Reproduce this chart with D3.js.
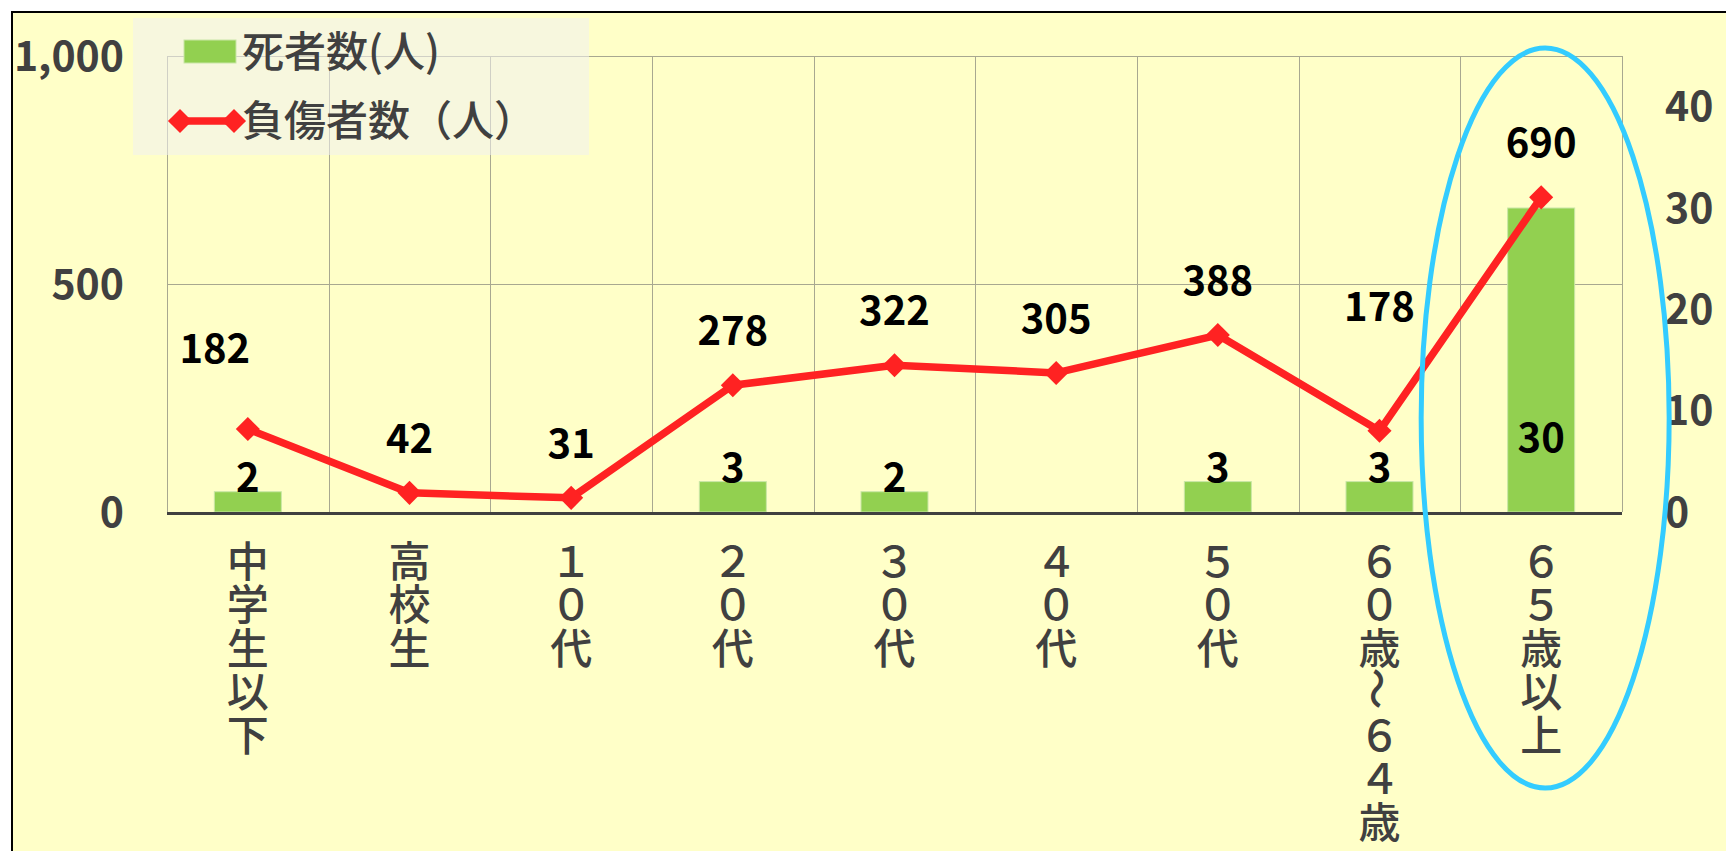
<!DOCTYPE html>
<html>
<head>
<meta charset="utf-8">
<script src="https://cdn.jsdelivr.net/npm/d3@7"></script>
<style>
  html, body { margin: 0; padding: 0; background: #fff; }
  svg { display: block; font-family: "Noto Sans CJK JP", "Noto Sans", sans-serif; }
</style>
</head>
<body>
<svg id="chart" width="1726" height="851"></svg>
<script>
// data
const categories = ["中学生以下", "高校生", "１０代", "２０代", "３０代", "４０代", "５０代", "６０歳～６４歳", "６５歳以上"];
const deaths = [2, 0, 0, 3, 2, 0, 3, 3, 30];
const injuries = [182, 42, 31, 278, 322, 305, 388, 178, 690];
const leftTicks = [0, 500, 1000];
const rightTicks = [0, 10, 20, 30, 40];
const seriesNames = ["死者数(人)", "負傷者数（人）"];

// some labels were dragged by hand in the original
const labelNudge = {0: [-33, -66], 7: [0, -110]};

const svg = d3.select("#chart");
const plot = {left: 167, right: 1622, top: 56, bottom: 512};

const x = d3.scaleBand().domain(categories).range([plot.left, plot.right]);
const bw = x.bandwidth();
const cx = c => x(c) + bw / 2;
const yL = d3.scaleLinear().domain([0, 1000]).range([plot.bottom, plot.top]);
const yR = d3.scaleLinear().domain([0, 45]).range([plot.bottom, plot.top]);

const green = "#92D050", red = "#FF2222", axisGrey = "#404040", gridCol = "#A8A890";

// frame / background
svg.append("rect")
  .attr("x", 12).attr("y", 12).attr("width", 1800).attr("height", 900)
  .attr("fill", "#FFFFC8").attr("stroke", "#000").attr("stroke-width", 2);

// gridlines
const grid = svg.append("g").attr("stroke", gridCol).attr("stroke-width", 1);
grid.selectAll("line.h")
  .data(leftTicks.filter(d => d > 0))
  .enter().append("line")
  .attr("x1", plot.left).attr("x2", plot.right)
  .attr("y1", d => Math.round(yL(d)) + 0.5).attr("y2", d => Math.round(yL(d)) + 0.5);
grid.selectAll("line.v")
  .data(d3.range(categories.length + 1))
  .enter().append("line")
  .attr("x1", i => Math.round(plot.left + i * x.step()) + 0.5)
  .attr("x2", i => Math.round(plot.left + i * x.step()) + 0.5)
  .attr("y1", plot.top).attr("y2", plot.bottom);

// legend box (semi transparent, gridlines show through)
svg.append("rect")
  .attr("x", 133).attr("y", 18).attr("width", 456).attr("height", 137)
  .attr("fill", "#F0F0F0").attr("fill-opacity", 0.55);

// bars on right axis
const barW = 67;
svg.append("g").selectAll("rect")
  .data(deaths.map((v, i) => ({c: categories[i], v})).filter(d => d.v > 0))
  .enter().append("rect")
  .attr("x", d => cx(d.c) - barW / 2)
  .attr("width", barW)
  .attr("y", d => yR(d.v))
  .attr("height", d => yR(0) - yR(d.v))
  .attr("fill", green)
  .attr("stroke", "#C9E6A6").attr("stroke-width", 1);

// baseline
svg.append("line")
  .attr("x1", plot.left).attr("x2", plot.right)
  .attr("y1", plot.bottom + 1.5).attr("y2", plot.bottom + 1.5)
  .attr("stroke", axisGrey).attr("stroke-width", 3);

// injuries line on left axis
const pts = injuries.map((v, i) => ({c: categories[i], v, i}));
svg.append("path")
  .datum(pts)
  .attr("fill", "none").attr("stroke", red).attr("stroke-width", 7.5)
  .attr("stroke-linejoin", "round")
  .attr("d", d3.line().x(d => cx(d.c)).y(d => yL(d.v)));

const diamond = d3.symbol().type(d3.symbolSquare).size(290);
svg.append("g").selectAll("path")
  .data(pts)
  .enter().append("path")
  .attr("d", diamond)
  .attr("transform", d => `translate(${cx(d.c)},${yL(d.v)}) rotate(45)`)
  .attr("fill", red);

// axis tick labels
const axisFont = {size: 41, weight: 700};
svg.append("g").selectAll("text")
  .data(leftTicks)
  .enter().append("text")
  .attr("x", 124).attr("y", d => yL(d))
  .attr("dy", "0.36em")
  .attr("text-anchor", "end")
  .attr("font-size", axisFont.size).attr("font-weight", axisFont.weight)
  .attr("fill", axisGrey)
  .text(d => d3.format(",")(d));

svg.append("g").selectAll("text")
  .data(rightTicks)
  .enter().append("text")
  .attr("x", 1665).attr("y", d => yR(d))
  .attr("dy", "0.36em")
  .attr("text-anchor", "start")
  .attr("font-size", axisFont.size).attr("font-weight", axisFont.weight)
  .attr("fill", axisGrey)
  .text(d => d);

// category labels, stacked one character per line
const catG = svg.append("g").attr("fill", axisGrey).attr("font-size", 42).attr("font-weight", 500);
categories.forEach(c => {
  Array.from(c).forEach((ch, j) => {
    const yy = 558 + j * 43.5;
    catG.append("text")
      .attr("x", cx(c)).attr("y", yy)
      .attr("text-anchor", "middle")
      .attr("dominant-baseline", "central")
      .attr("transform", ch === "～" ? `rotate(90,${cx(c)},${yy})` : null)
      .text(ch);
  });
});

// data labels: bars
svg.append("g").selectAll("text")
  .data(deaths.map((v, i) => ({c: categories[i], v})).filter(d => d.v > 0))
  .enter().append("text")
  .attr("x", d => cx(d.c)).attr("y", d => Math.max(yR(d.v), yR(0) - 60))
  .attr("text-anchor", "middle")
  .attr("font-size", 40).attr("font-weight", 700).attr("fill", "#000")
  .text(d => d.v);

// data labels: line
svg.append("g").selectAll("text")
  .data(pts)
  .enter().append("text")
  .attr("x", d => cx(d.c) + (labelNudge[d.i] || [0, -40])[0])
  .attr("y", d => yL(d.v) + (labelNudge[d.i] || [0, -40])[1])
  .attr("text-anchor", "middle")
  .attr("font-size", 40).attr("font-weight", 700).attr("fill", "#000")
  .text(d => d.v);

// legend
const lg = svg.append("g").attr("font-size", 42).attr("font-weight", 500).attr("fill", axisGrey);
lg.append("rect")
  .attr("x", 184).attr("y", 40).attr("width", 52).attr("height", 23)
  .attr("fill", green).attr("stroke", "#C9E6A6").attr("stroke-width", 1);
lg.append("text").attr("x", 242).attr("y", 52).attr("dy", "0.36em").text(seriesNames[0]);
lg.append("line")
  .attr("x1", 180).attr("x2", 234).attr("y1", 121).attr("y2", 121)
  .attr("stroke", red).attr("stroke-width", 7.5);
lg.selectAll("path.m")
  .data([180, 234])
  .enter().append("path")
  .attr("d", diamond)
  .attr("transform", d => `translate(${d},121) rotate(45)`)
  .attr("fill", red);
lg.append("text").attr("x", 242).attr("y", 121).attr("dy", "0.36em").text(seriesNames[1]);

// highlight ellipse around the last category
svg.append("ellipse")
  .attr("cx", cx(categories[8]) + 4).attr("cy", 418)
  .attr("rx", 124).attr("ry", 370)
  .attr("fill", "none").attr("stroke", "#33CCFF").attr("stroke-width", 5);
</script>
</body>
</html>
